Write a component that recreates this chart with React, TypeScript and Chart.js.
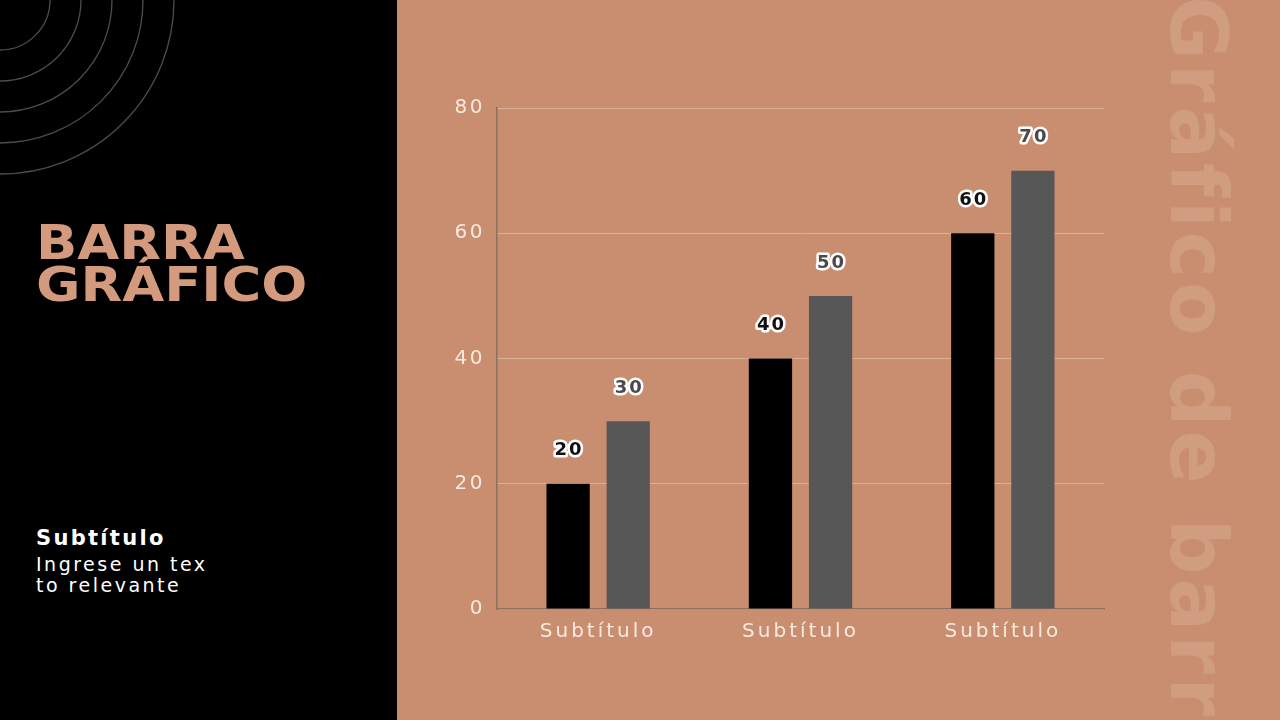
import React, { useEffect, useRef } from 'react';
import { Chart, registerables } from 'chart.js';

Chart.register(...registerables);

const categories = ['Subtítulo', 'Subtítulo', 'Subtítulo'];
const seriesA = [20, 40, 60];
const seriesB = [30, 50, 70];
const yTicks = [0, 20, 40, 60, 80];

const BG = '#C98D70';
const CREAM = '#F8EADF';

// numbers over the bars, white outline like the original
const valueLabels = {
  id: 'valueLabels',
  afterDatasetsDraw(chart: Chart) {
    const ctx = chart.ctx;
    ctx.save();
    ctx.font = 'bold 18px "DejaVu Sans"';
    (ctx as any).letterSpacing = '2px';
    ctx.textAlign = 'center';
    ctx.textBaseline = 'middle';
    ctx.lineJoin = 'round';
    chart.data.datasets.forEach((ds, i) => {
      const meta = chart.getDatasetMeta(i);
      meta.data.forEach((bar: any, j) => {
        const text = String(ds.data[j]);
        const y = bar.y - 33;
        ctx.lineWidth = 5;
        ctx.strokeStyle = '#ffffff';
        ctx.strokeText(text, bar.x + 1, y);
        ctx.fillStyle = i === 0 ? '#111111' : '#4a4a4a';
        ctx.fillText(text, bar.x + 1, y);
      });
    });
    ctx.restore();
  },
};

// y labels drawn before datasets, x labels (z: 1) after
const spacing = {
  id: 'spacing',
  beforeDraw(chart: Chart) {
    (chart.ctx as any).letterSpacing = '2.5px';
  },
  afterDatasetsDraw(chart: Chart) {
    (chart.ctx as any).letterSpacing = '3px';
  },
};

const BarChart: React.FC = () => {
  const canvasRef = useRef<HTMLCanvasElement | null>(null);
  const chartInstance = useRef<Chart | null>(null);

  useEffect(() => {
    const ctx = canvasRef.current?.getContext('2d');
    if (!ctx) return;
    if (chartInstance.current) chartInstance.current.destroy();

    chartInstance.current = new Chart(ctx, {
      type: 'bar',
      data: {
        labels: categories,
        datasets: [
          {
            data: seriesA,
            backgroundColor: '#000000',
            categoryPercentage: 0.594,
            barPercentage: 0.72,
          },
          {
            data: seriesB,
            backgroundColor: '#575757',
            categoryPercentage: 0.594,
            barPercentage: 0.72,
          },
        ],
      },
      options: {
        animation: false,
        responsive: true,
        maintainAspectRatio: false,
        layout: { padding: { left: 0, right: 176, top: 108, bottom: 71 } },
        plugins: {
          legend: { display: false },
          tooltip: { enabled: false },
        },
        scales: {
          x: {
            afterFit: (scale: any) => {
              scale.height = 40;
            },
            grid: { display: false, drawTicks: false },
            border: { color: '#8E7060', width: 1.5 },
            ticks: {
              z: 1,
              color: CREAM,
              padding: 11,
              font: { family: 'DejaVu Sans', size: 20 },
            },
          },
          y: {
            min: 0,
            max: 80,
            afterFit: (scale: any) => {
              scale.width = 100;
            },
            afterBuildTicks: (scale: any) => {
              scale.ticks = yTicks.map((v) => ({ value: v }));
            },
            grid: { color: '#DDB195', lineWidth: 1, drawTicks: false },
            border: { color: '#8E7060', width: 1.5 },
            ticks: {
              color: CREAM,
              padding: 12,
              font: { family: 'DejaVu Sans', size: 20 },
            },
          },
        },
      },
      plugins: [spacing, valueLabels],
    });

    return () => {
      if (chartInstance.current) {
        chartInstance.current.destroy();
        chartInstance.current = null;
      }
    };
  }, []);

  return <canvas ref={canvasRef} />;
};

const App: React.FC = () => {
  return (
    <div
      style={{
        position: 'fixed',
        left: 0,
        top: 0,
        width: 1280,
        height: 720,
        background: BG,
        overflow: 'hidden',
        fontFamily: '"DejaVu Sans", sans-serif',
      }}
    >
      <div style={{ position: 'absolute', left: 0, top: 0, width: 397, height: 720, background: '#000' }}>
        <svg width={397} height={300} style={{ position: 'absolute', left: 0, top: 0 }}>
          {[50, 81, 112, 143, 174].map((r) => (
            <circle key={r} cx={0} cy={0} r={r} fill="none" stroke="#4d4d4d" strokeWidth={1.3} />
          ))}
        </svg>
        <div
          style={{
            position: 'absolute',
            left: 36,
            top: 221,
            color: '#D49A7D',
            fontWeight: 'bold',
            fontSize: 48,
            lineHeight: '42px',
            transform: 'scaleX(1.13)',
            transformOrigin: 'left top',
            whiteSpace: 'nowrap',
          }}
        >
          BARRA
          <br />
          GRÁFICO
        </div>
        <div
          style={{
            position: 'absolute',
            left: 36,
            top: 526,
            color: '#fff',
            fontWeight: 'bold',
            fontSize: 21,
            lineHeight: '24px',
            letterSpacing: '2.3px',
          }}
        >
          Subtítulo
        </div>
        <div
          style={{
            position: 'absolute',
            left: 36,
            top: 554,
            color: '#fff',
            fontSize: 19,
            lineHeight: '21px',
            letterSpacing: '2.5px',
            whiteSpace: 'nowrap',
          }}
        >
          Ingrese un tex
          <br />
          to relevante
        </div>
      </div>
      <div
        style={{
          position: 'absolute',
          left: 1238,
          top: -4,
          transform: 'rotate(90deg)',
          transformOrigin: 'left top',
          color: '#D19D80',
          fontWeight: 'bold',
          fontSize: 78,
          lineHeight: '80px',
          letterSpacing: '4px',
          whiteSpace: 'nowrap',
        }}
      >
        Gráfico de barra
      </div>
      <div style={{ position: 'absolute', left: 397, top: 0, width: 883, height: 720 }}>
        <BarChart />
      </div>
    </div>
  );
};

export default App;
